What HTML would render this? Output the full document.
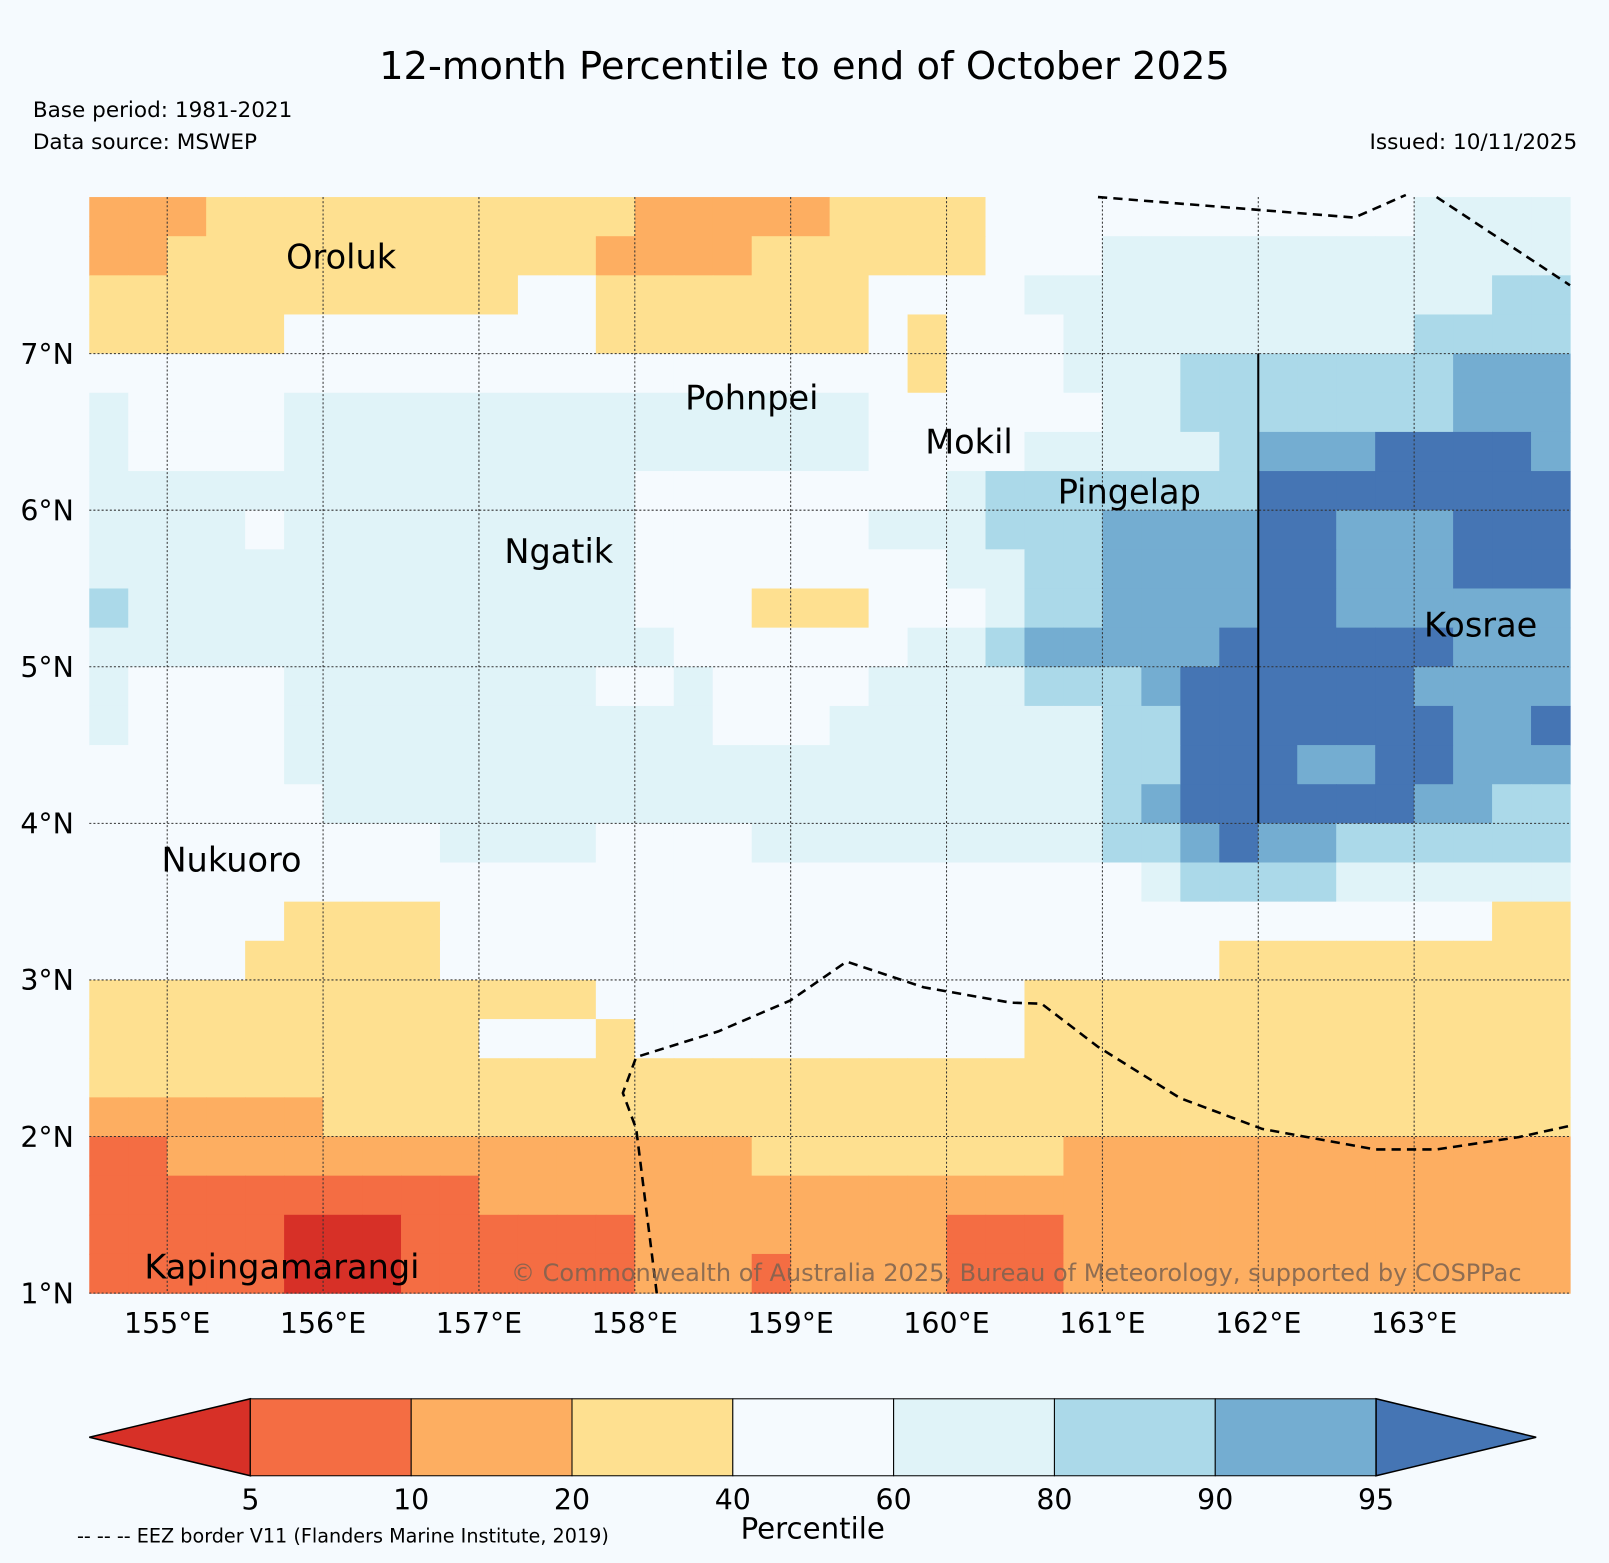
<!DOCTYPE html>
<html><head><meta charset="utf-8">
<style>
html,body{margin:0;padding:0;background:#f5fafe;}
svg{display:block;font-family:"DejaVu Sans","Liberation Sans",sans-serif;}
</style></head>
<body>
<svg id="chart" width="1609" height="1563" viewBox="0 0 1568 1523" preserveAspectRatio="none">
<rect x="0" y="0" width="1568" height="1523" fill="#f5fafe"/>
<text x="784" y="77" font-size="37.5" text-anchor="middle" fill="#000">12-month Percentile to end of October 2025</text>
<text x="32" y="114" font-size="21" fill="#000">Base period: 1981-2021</text>
<text x="32" y="145" font-size="21" fill="#000">Data source: MSWEP</text>
<text x="1537" y="145" font-size="21" text-anchor="end" fill="#000">Issued: 10/11/2025</text>
<g id="cells"></g>
<g id="grid"></g>
<g id="overlay"></g>
<g id="cbar"></g>
</svg>
<script>
// ---- data ----
const lonMin = 154.5, lonMax = 164.0, latMin = 1.0, latMax = 8.0;
const cellDeg = 0.25;
const levelColors = ["#d73027","#f46d43","#fdae61","#fee090","#f5fafe","#e0f3f8","#abd9e9","#74add1","#4575b4"];
const boundaries = [5,10,20,40,60,80,90,95];
const lonTicks = [155,156,157,158,159,160,161,162,163];
const latTicks = [1,2,3,4,5,6,7];
// category rows, north to south (each char = level index)
const fieldRows = [
"22233333333333222223333444444444445555",
"22333333333332222333333444555555555555",
"33333333333443333333444455555555555566",
"33333444444443333333434445555555556666",
"44444444444444444444434445556666666777",
"54444555555555555555444444556666666777",
"54444555555555555555444455555677788887",
"55555555555555444444445666666688888888",
"55554555555555444444555666777788777888",
"55555555555555444444445566777788777888",
"65555555555555444333444566777788777777",
"55555555555555544444455677777888888777",
"54444555555554454444555566678888887777",
"54444555555555554445555555668888888778",
"44444555555555555555555555668887788777",
"44444455555555555555555555678888887766",
"44444444455554444555555555667877666666",
"44444444444444444444444444456666555555",
"44444333344444444444444444444444444433",
"44443333344444444444444444444333333333",
"33333333333334444444444433333333333333",
"33333333334443444444444433333333333333",
"33333333333333333333333333333333333333",
"22222233333333333333333333333333333333",
"11222222222222222333333332222222222222",
"11111111112222222222222222222222222222",
"11111000111111222222221112222222222222",
"11111000111111222122221112222222222222"
];
const islandNames = ["Oroluk","Pohnpei","Mokil","Pingelap","Ngatik","Kosrae","Nukuoro","Kapingamarangi"];
const islandLon = [155.75,158.31,159.85,160.7,157.15,163.05,154.95,154.84];
const islandLat = [7.7,6.8,6.52,6.2,5.82,5.35,3.85,1.25];
const colorTicks = ["5","10","20","40","60","80","90","95"];

// ---- axes ----
const X0=87, X1=1530, Y0=192, Y1=1260;
const xs = lon => X0 + (lon-lonMin)/(lonMax-lonMin)*(X1-X0);
const ys = lat => Y1 - (lat-latMin)/(latMax-latMin)*(Y1-Y0);
const NS="http://www.w3.org/2000/svg";
function mk(tag, attrs, parent){const e=document.createElementNS(NS,tag);for(const k in attrs)e.setAttribute(k,attrs[k]);parent.appendChild(e);return e;}

// cells
const cg=document.getElementById('cells');
fieldRows.forEach((row,r)=>{
  const latTop = latMax - r*cellDeg;
  for(let c=0;c<row.length;c++){
    const lonL = lonMin + c*cellDeg;
    const x=xs(lonL), y=ys(latTop);
    const w=xs(lonL+cellDeg)-x, h=ys(latTop-cellDeg)-y;
    const el=mk('rect',{x:x,y:y,width:w+0.6,height:h+0.6,fill:levelColors[+row[c]]},cg);
    
    
  }
});

// grid
const gg=document.getElementById('grid');
lonTicks.forEach(l=>{
  const x=xs(l);
  const ln=mk('line',{x1:x,y1:Y0,x2:x,y2:Y1,stroke:"#333","stroke-width":1,"stroke-dasharray":"2,2"},gg);
  
  
  const t=mk('text',{x:x,y:1299,"font-size":27.7,"text-anchor":"middle",fill:"#000"},gg);
  t.textContent=l+"°E";
  
  
});
latTicks.forEach(l=>{
  const y=ys(l);
  const ln=mk('line',{x1:X0,y1:y,x2:X1,y2:y,stroke:"#333","stroke-width":1,"stroke-dasharray":"2,2"},gg);
  
  
  const t=mk('text',{x:72,y:y+10,"font-size":27.7,"text-anchor":"end",fill:"#000"},gg);
  t.textContent=l+"°N";
  
  
});

// overlay
const og=document.getElementById('overlay');
const l162=mk('line',{x1:xs(162),y1:ys(7),x2:xs(162),y2:ys(4),stroke:"#000","stroke-width":2},og);


const eezPaths=[
 "M1070,192 L1320,212 L1370,190",
 "M1400,192 L1530,278",
 "M640,1260 L620,1100 L607,1065 L620,1030 L700,1005 L770,975 L825,937 L900,962 L985,977 L1015,978 L1070,1020 L1150,1070 L1230,1100 L1340,1120 L1400,1120 L1480,1108 L1530,1097"
];
eezPaths.forEach(d=>{
  const p=mk('path',{d:d,fill:"none",stroke:"#000","stroke-width":2.5,"stroke-dasharray":"9,6"},og);
  
  
});
islandNames.forEach((n,i)=>{
  const x=xs(islandLon[i]), y=ys(islandLat[i]);
  const t=mk('text',{x:x+2,y:y+24,"font-size":32.7,fill:"#000"},og);
  t.textContent=n;
  
  
});
const cp=mk('text',{x:498,y:1248,"font-size":23.4,fill:"#7a6250","fill-opacity":0.85},og);
cp.textContent="© Commonwealth of Australia 2025, Bureau of Meteorology, supported by COSPPac";



// colorbar
const cb=document.getElementById('cbar');
const cbL=244, cbR=1341, cbT=1363, cbB=1438, segW=(cbR-cbL)/7;
const tri1=mk('polygon',{points:`${cbL},${cbT} 87,${(cbT+cbB)/2} ${cbL},${cbB}`,fill:levelColors[0],stroke:"#000","stroke-width":1.5},cb);


for(let i=0;i<7;i++){
  const r=mk('rect',{x:cbL+i*segW,y:cbT,width:segW,height:cbB-cbT,fill:levelColors[i+1],stroke:"#000","stroke-width":1},cb);
  
  
}
const tri2=mk('polygon',{points:`${cbR},${cbT} 1497,${(cbT+cbB)/2} ${cbR},${cbB}`,fill:levelColors[8],stroke:"#000","stroke-width":1.5},cb);


colorTicks.forEach((s,i)=>{
  const t=mk('text',{x:cbL+i*segW,y:1471,"font-size":27.7,"text-anchor":"middle",fill:"#000"},cb);
  t.textContent=s;
  
  
});
const pl=mk('text',{x:792,y:1499,"font-size":28.5,"text-anchor":"middle",fill:"#000"},cb);
pl.textContent="Percentile";


const en=mk('text',{x:75,y:1503,"font-size":18.7,fill:"#000"},cb);
en.textContent="-- -- -- EEZ border V11 (Flanders Marine Institute, 2019)";


</script>
</body></html>
